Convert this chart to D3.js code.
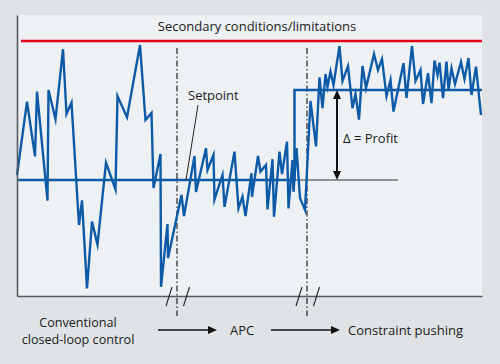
<!DOCTYPE html>
<html>
<head>
<meta charset="utf-8">
<script src="https://cdn.jsdelivr.net/npm/d3@7/dist/d3.min.js"></script>
<style>
  html, body { margin: 0; padding: 0; background: #dfe3e6; }
  svg { display: block; }
  text { font-family: "Open Sans", "Noto Sans", sans-serif; fill: #1a1a1a; }
</style>
</head>
<body>
<svg id="chart" width="500" height="364"></svg>
<script>
// ---- Data (time units, process value units; setpoint of conventional control = 0) ----
const processTime = [0, 2, 3.6, 4, 6.1, 6.3, 7.7, 9.2, 9.9, 10.9, 12.4, 13, 14, 15, 16.1, 17.8, 19.7, 20.1, 22, 24.6,
  25.7, 26.9, 27.3, 28.7, 28.8, 30.1, 30.2, 32.9, 33.4, 35.5, 35.8, 37.8, 38.1, 39.3, 39.5, 41.1, 41.5, 43.5, 44.3, 45.1,
  45.7, 46.9, 47, 48.2, 48.7, 49.8, 50.1, 51.1, 51.4, 52.5, 53, 54, 54.3, 55.1, 55.3, 55.9, 56.6, 57.6, 58.7, 59.8,
  60.5, 61.1, 61.7, 62.1, 62.7, 63.3, 64.5, 65.1, 66.2, 67.1, 67.7, 68.4, 69.1, 69.8, 71.4, 72.2, 73, 73.9, 74.7, 75.3,
  77.3, 77.9, 79, 79.7, 80.7, 81.2, 82.2, 82.9, 83.5, 84.1, 84.5, 85.2, 85.9, 86.3, 86.9, 87.6, 88.8, 89.5, 90.3, 90.9,
  91.8, 92.8];
const processValue = [2.5, 39.2, 11.8, 44.2, -10.3, 45, 30.4, 65.4, 33, 38.7, -22.5, -10.2, -54.2, -20.8, -32.3, 8.7, -4.7, 42, 31.4, 67.5,
  30, 33.5, -4, 13, -53.4, -22, -39, -7.5, -18, 12, -6, 15.9, 5, 12.5, -9.7, 2.5, -13.4, 14.2, -14.2, -8.4,
  -18, 3.4, -8.4, 12, 4.2, 7.5, -14.7, 10.4, -18.4, 14.2, 3, 19.2, -14.2, 10, -5.9, 15.9, -9, -15, 39.5, 16.8,
  51.3, 35.9, 53, 46.7, 54.2, 47.5, 67, 49.5, 56.9, 35.9, 43, 30.2, 57, 46, 63, 55, 60.5, 42, 50, 34.2,
  58.4, 41, 67, 49.5, 55, 38, 53.4, 38.4, 59.7, 52.5, 58.7, 40.9, 59.2, 45, 55.9, 48, 59, 50.5, 61, 42.5,
  56.7, 32.5];
const setpointTime = [0, 55.5, 55.5, 93];
const setpointValue = [0, 0, 45, 45];
const limitValue = 69.5;
const limitStart = 0.8;
const referenceEnd = 76.2;       // end of thin reference line at old setpoint
const profitTime = 64;           // position of the Δ arrow
const phaseBoundaries = [32, 58];
const titleText = "Secondary conditions/limitations";
const setpointLabel = "Setpoint";
const profitLabel = "\u0394 = Profit";
const phaseLabels = [["Conventional", "closed-loop control"], ["APC"], ["Constraint pushing"]];

// ---- Layout ----
const svg = d3.select("#chart");
const W = 500, H = 364;
const x = d3.scaleLinear().domain([0, 93]).range([17, 482]);
const y = d3.scaleLinear().domain([-58, 82.5]).range([296, 15]);

const BLUE = "#0d5aa7", RED = "#e2001a", AXIS = "#555b60";

svg.append("rect").attr("width", W).attr("height", H).attr("fill", "#dfe3e6");
svg.append("rect")
  .attr("x", x(0)).attr("y", y.range()[1])
  .attr("width", x(93) - x(0)).attr("height", y.range()[0] - y.range()[1])
  .attr("fill", "#eef1f4");

// title of the limit line
svg.append("text").attr("x", 257).attr("y", 31).attr("text-anchor", "middle")
  .attr("font-size", 13).text(titleText);

// limit (red)
svg.append("line")
  .attr("x1", x(limitStart)).attr("x2", x(93))
  .attr("y1", y(limitValue)).attr("y2", y(limitValue))
  .attr("stroke", RED).attr("stroke-width", 2.5);

// thin reference line at former setpoint
svg.append("line")
  .attr("x1", x(setpointTime[1])).attr("x2", x(referenceEnd))
  .attr("y1", y(0)).attr("y2", y(0))
  .attr("stroke", "#333").attr("stroke-width", 1.2);

// phase boundaries (dash-dot)
phaseBoundaries.forEach(b => {
  svg.append("line")
    .attr("x1", x(b)).attr("x2", x(b))
    .attr("y1", y(66)).attr("y2", y(-68))
    .attr("stroke", "#222").attr("stroke-width", 1.2)
    .attr("stroke-dasharray", "6,2.5,1.5,2.5");
});

// setpoint line
const spLine = d3.line().x((d, i) => x(setpointTime[i])).y((d, i) => y(setpointValue[i]));
svg.append("path").attr("d", spLine(setpointTime))
  .attr("fill", "none").attr("stroke", BLUE).attr("stroke-width", 2.5);

// process value
const pvLine = d3.line().x((d, i) => x(processTime[i])).y((d, i) => y(processValue[i]));
svg.append("path").attr("d", pvLine(processTime))
  .attr("fill", "none").attr("stroke", BLUE).attr("stroke-width", 2.4)
  .attr("stroke-linejoin", "miter").attr("stroke-miterlimit", 6);

// axes
svg.append("g").attr("transform", `translate(0,${y(-58)})`)
  .call(d3.axisBottom(x).tickValues([]).tickSizeOuter(0))
  .call(g => g.select(".domain").attr("stroke", AXIS).attr("stroke-width", 1.6));
svg.append("g").attr("transform", `translate(${x(0)},0)`)
  .call(d3.axisLeft(y).tickValues([]).tickSizeOuter(0))
  .call(g => g.select(".domain").attr("stroke", AXIS).attr("stroke-width", 1.6));

// axis break marks
phaseBoundaries.forEach(b => {
  [-8, 9.5].forEach(off => {
    const cx = x(b) + off, cy = y(-58);
    svg.append("line")
      .attr("x1", cx - 3).attr("y1", cy + 10)
      .attr("x2", cx + 3).attr("y2", cy - 9)
      .attr("stroke", "#222").attr("stroke-width", 1.1);
  });
});

// setpoint label + leader
svg.append("text").attr("x", 188).attr("y", 100).attr("font-size", 13).text(setpointLabel);
svg.append("line").attr("x1", 198).attr("y1", 105).attr("x2", 186).attr("y2", y(0))
  .attr("stroke", "#222").attr("stroke-width", 1);

// Δ profit double arrow
const ax = x(profitTime), aTop = y(setpointValue[3]), aBot = y(0);
svg.append("line").attr("x1", ax).attr("x2", ax).attr("y1", aTop + 6).attr("y2", aBot - 6)
  .attr("stroke", "#111").attr("stroke-width", 2);
svg.append("path").attr("d", `M${ax},${aTop}L${ax - 4},${aTop + 9}L${ax + 4},${aTop + 9}Z`).attr("fill", "#111");
svg.append("path").attr("d", `M${ax},${aBot}L${ax - 4},${aBot - 9}L${ax + 4},${aBot - 9}Z`).attr("fill", "#111");
svg.append("text").attr("x", ax + 6).attr("y", 142.5).attr("font-size", 13).text(profitLabel);

// phase labels at the bottom
svg.append("text").attr("x", 78).attr("y", 326.5).attr("text-anchor", "middle").attr("font-size", 12.6).text(phaseLabels[0][0]);
svg.append("text").attr("x", 78).attr("y", 343.8).attr("text-anchor", "middle").attr("font-size", 12.6).text(phaseLabels[0][1]);
svg.append("text").attr("x", 230).attr("y", 334.5).attr("font-size", 13).text(phaseLabels[1][0]);
svg.append("text").attr("x", 348).attr("y", 334.5).attr("font-size", 13).text(phaseLabels[2][0]);

function hArrow(x1, x2, yy) {
  svg.append("line").attr("x1", x1).attr("x2", x2 - 8).attr("y1", yy).attr("y2", yy)
    .attr("stroke", "#111").attr("stroke-width", 1.3);
  svg.append("path").attr("d", `M${x2},${yy}L${x2 - 9},${yy - 4}L${x2 - 9},${yy + 4}Z`).attr("fill", "#111");
}
hArrow(158, 217, 330);
hArrow(271, 340, 330);
</script>
</body>
</html>
